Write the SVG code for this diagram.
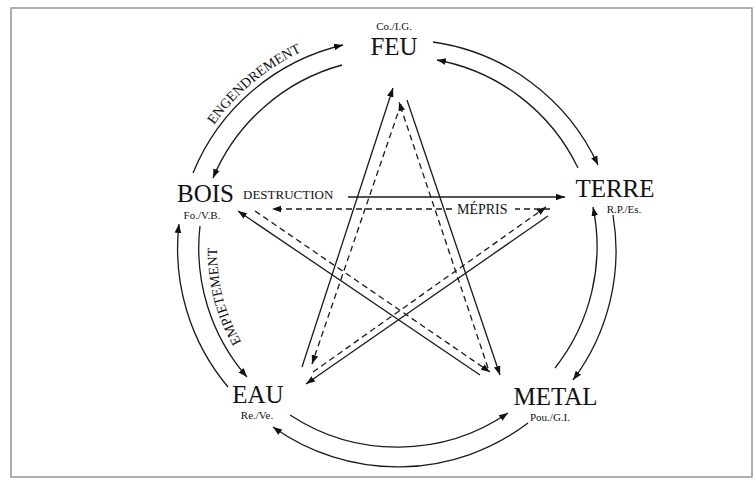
<svg xmlns="http://www.w3.org/2000/svg" width="756" height="483" viewBox="0 0 756 483">
<style>
.bg{fill:#fff}
.frame{fill:none;stroke:#9a9a9a;stroke-width:1.6}
.ln{fill:none;stroke:#1a1a1a;stroke-width:1.3}
.ds{fill:none;stroke:#1a1a1a;stroke-width:1.3;stroke-dasharray:6 4}
.big{font-family:"Liberation Serif","Times New Roman",serif;font-size:25px;fill:#111;text-anchor:middle}
.sub{font-family:"Liberation Serif","Times New Roman",serif;font-size:11px;fill:#111;text-anchor:middle}
.lab{font-family:"Liberation Serif","Times New Roman",serif;font-size:13px;fill:#111}
.arc{font-family:"Liberation Serif","Times New Roman",serif;font-size:14px;fill:#111}
</style>
<defs>
<marker id="ah" viewBox="0 0 10 10" refX="10" refY="5" markerWidth="9" markerHeight="9" markerUnits="userSpaceOnUse" orient="auto"><path d="M0,1.3 L10,5 L0,8.7 z" fill="#111"/></marker>
<path id="pEng" d="M199.9,148.2 A221,221 0 0 1 326.7,41.8"/>
<path id="pEmp" d="M249.2,354.1 A178,178 0 0 1 218.0,233.4"/>
</defs>
<rect class="bg" x="0" y="0" width="756" height="483"/>
<rect class="frame" x="11" y="8" width="741" height="469"/>

<g id="connectors">
<!-- outer cycle (engendrement) -->
<path class="ln" d="M193,173 A215,215 0 0 1 343,45" marker-end="url(#ah)"/>
<path class="ln" d="M433,42 A215,215 0 0 1 598,165" marker-end="url(#ah)"/>
<path class="ln" d="M613,215 A215,215 0 0 1 573,380" marker-end="url(#ah)"/>
<path class="ln" d="M528,423 A215,215 0 0 1 273,427" marker-end="url(#ah)"/>
<path class="ln" d="M228,387 A215,215 0 0 1 179,224" marker-end="url(#ah)"/>
<!-- inner cycle (empietement) -->
<path class="ln" d="M342,65 A196,196 0 0 0 213,178" marker-end="url(#ah)"/>
<path class="ln" d="M578,168 A196,196 0 0 0 437,60" marker-end="url(#ah)"/>
<path class="ln" d="M555,368 A196,196 0 0 0 593,207" marker-end="url(#ah)"/>
<path class="ln" d="M290,415 A196,196 0 0 0 508,413" marker-end="url(#ah)"/>
<path class="ln" d="M200,226 A196,196 0 0 0 247,377" marker-end="url(#ah)"/>
<!-- destruction (solid star) -->
<path class="ln" d="M348,197 L565,197" marker-end="url(#ah)"/>
<path class="ln" d="M548,216 L306,384" marker-end="url(#ah)"/>
<path class="ln" d="M302,367 L393,88" marker-end="url(#ah)"/>
<path class="ln" d="M407,100 L500,375" marker-end="url(#ah)"/>
<path class="ln" d="M480,375 L238,211" marker-end="url(#ah)"/>
<!-- mepris (dashed star) -->
<path class="ds" d="M550,209 L515,209"/>
<path class="ds" d="M452,209 L272,209" marker-end="url(#ah)"/>
<path class="ds" d="M313,372 L546,207" marker-end="url(#ah)"/>
<path class="ds" d="M401,104 L312,364" marker-end="url(#ah)"/>
<path class="ds" d="M488,368 L399,102" marker-end="url(#ah)"/>
<path class="ds" d="M255,211 L490,372" marker-end="url(#ah)"/>
<text class="lab" x="243" y="199">DESTRUCTION</text>
<text class="lab" x="457" y="214" style="font-size:14px">MÉPRIS</text>
<text class="arc"><textPath href="#pEng" startOffset="50%" text-anchor="middle">ENGENDREMENT</textPath></text>
<text class="arc"><textPath href="#pEmp" startOffset="50%" text-anchor="middle">EMPIETEMENT</textPath></text>
</g>

<g id="feu">
<text class="sub" x="394" y="30">Co./I.G.</text>
<text class="big" x="394" y="55">FEU</text>
</g>
<g id="bois">
<text class="big" x="205.5" y="202">BOIS</text>
<text class="sub" x="202" y="219">Fo./V.B.</text>
</g>
<g id="terre">
<text class="big" x="615" y="197">TERRE</text>
<text class="sub" x="624" y="213">R.P./Es.</text>
</g>
<g id="metal">
<text class="big" x="555.5" y="405">METAL</text>
<text class="sub" x="550" y="421">Pou./G.I.</text>
</g>
<g id="eau">
<text class="big" x="258" y="403">EAU</text>
<text class="sub" x="257" y="419">Re./Ve.</text>
</g>
</svg>
